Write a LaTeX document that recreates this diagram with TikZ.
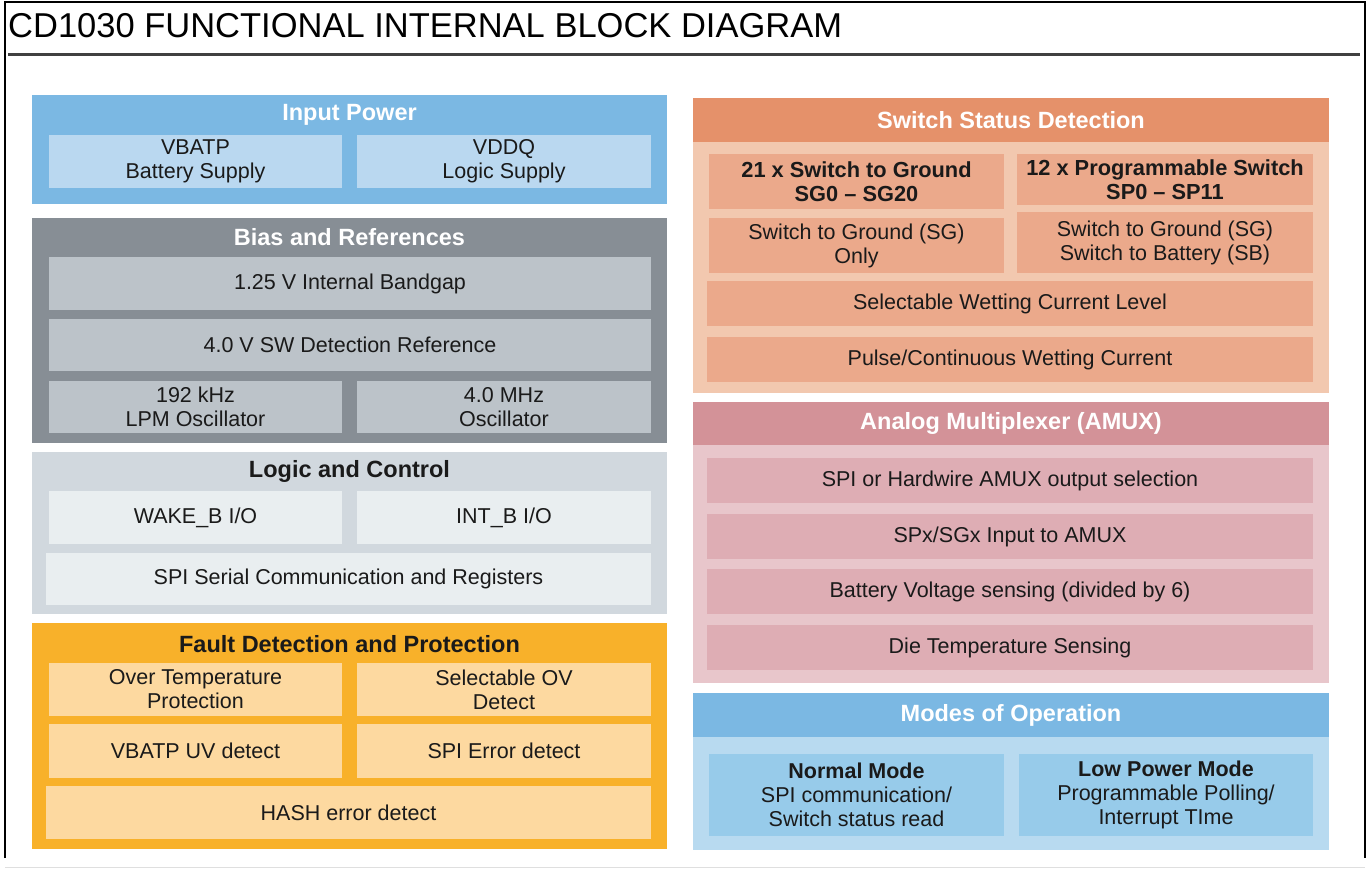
\documentclass[tikz,border=0pt]{standalone}
\usepackage{fontspec}
\setmainfont{Liberation Sans}
\definecolor{ipDark}{HTML}{7BB8E3}
\definecolor{ipLight}{HTML}{BAD8F0}
\definecolor{biasDark}{HTML}{878E95}
\definecolor{biasLight}{HTML}{BCC3C9}
\definecolor{logDark}{HTML}{D1D8DE}
\definecolor{logLight}{HTML}{E9EEF0}
\definecolor{faultDark}{HTML}{F8B12A}
\definecolor{faultLight}{HTML}{FDD9A0}
\definecolor{swDark}{HTML}{E5916A}
\definecolor{swBody}{HTML}{F2C8AF}
\definecolor{swBox}{HTML}{EBA98B}
\definecolor{amDark}{HTML}{D39298}
\definecolor{amBody}{HTML}{E8C6CB}
\definecolor{amBox}{HTML}{DEADB4}
\definecolor{moDark}{HTML}{7BB8E3}
\definecolor{moBody}{HTML}{B8DAF0}
\definecolor{moBox}{HTML}{97CBEA}
\definecolor{txt}{HTML}{1A1A1A}
\newcommand\blk[7]{%
  \pgfmathsetmacro\bw{#4-#2}\pgfmathsetmacro\bh{#5-#3}%
  \node[#6, minimum width=\bw pt, minimum height=\bh pt] (#1) at ({(#2+#4)/2},{(#3+#5)/2}) {#7};}
\tikzset{
  base/.style={rectangle, inner sep=0pt, outer sep=0pt, draw=none, align=center,
    text=txt, font=\fontsize{21.5}{24}\selectfont},
  hdrfont/.style={font=\bfseries\fontsize{23.5}{25}\selectfont},
  hdrW/.style={inner sep=0pt, text=white, hdrfont},
  hdrK/.style={inner sep=0pt, text=txt, hdrfont},
  frame/.style={line width=1.2pt, black},
}
\begin{document}
\begin{tikzpicture}[x=1pt,y=-1pt]
\useasboundingbox (0,0) rectangle (1368,869);
\fill[white] (0,0) rectangle (1368,869);
% frame
\coordinate (f1) at (5,858);
\coordinate (f2) at (5,2);
\coordinate (f3) at (1365,2);
\coordinate (f4) at (1365,858);
\draw[frame] (f1) -- (f2) -- (f3) -- (f4);
\coordinate (b1) at (5,867);
\coordinate (b2) at (1365,867);
\draw[gray!25, line width=1pt] (b1) -- (b2);
% title
\node[anchor=base west, inner sep=0pt, font=\fontsize{34.5}{38}\selectfont] (title) at (8,38) {CD1030 FUNCTIONAL INTERNAL BLOCK DIAGRAM};
\coordinate (t1) at (8,55);
\coordinate (t2) at (1360,55);
\draw[black!75, line width=3pt] (t1) -- (t2);

% ---------- Left column ----------
% Input Power
\blk{ip}{32}{95}{667}{204}{base, fill=ipDark}{}
\node[hdrW] (ipT) at (349.5,115) {Input Power};
\blk{vbatp}{49}{135}{342}{188}{base, fill=ipLight}{VBATP\\Battery Supply}
\blk{vddq}{357}{135}{651}{188}{base, fill=ipLight}{VDDQ\\Logic Supply}
% Bias
\blk{bias}{32}{218}{667}{443}{base, fill=biasDark}{}
\node[hdrW] (biasT) at (349.5,237.5) {Bias and References};
\blk{bg}{49}{257}{651}{310}{base, fill=biasLight}{1.25 V Internal Bandgap}
\blk{swref}{49}{319}{651}{371}{base, fill=biasLight}{4.0 V SW Detection Reference}
\blk{lpm}{49}{381}{342}{433}{base, fill=biasLight}{192 kHz\\LPM Oscillator}
\blk{osc}{357}{381}{651}{433}{base, fill=biasLight}{4.0 MHz\\Oscillator}
% Logic
\blk{logic}{32}{452}{667}{614}{base, fill=logDark}{}
\node[hdrK] (logicT) at (349.5,471.5) {Logic and Control};
\blk{wake}{49}{491}{342}{544}{base, fill=logLight}{WAKE\_B I/O}
\blk{intb}{357}{491}{651}{544}{base, fill=logLight}{INT\_B I/O}
\blk{spi}{46}{553}{651}{605}{base, fill=logLight}{SPI Serial Communication and Registers}
% Fault
\blk{fault}{32}{623}{667}{849}{base, fill=faultDark}{}
\node[hdrK] (faultT) at (349.5,644) {Fault Detection and Protection};
\blk{ot}{49}{663}{342}{716}{base, fill=faultLight}{Over Temperature\\Protection}
\blk{ov}{357}{663}{651}{716}{base, fill=faultLight}{Selectable OV\\Detect}
\blk{uv}{49}{724}{342}{778}{base, fill=faultLight}{VBATP UV detect}
\blk{spierr}{357}{724}{651}{778}{base, fill=faultLight}{SPI Error detect}
\blk{hash}{46}{786}{651}{839}{base, fill=faultLight}{HASH error detect}

% ---------- Right column ----------
% Switch Status Detection
\blk{sw}{693}{98}{1329}{393}{base, fill=swBody}{}
\blk{swH}{693}{98}{1329}{142}{base, fill=swDark, text=white, hdrfont}{Switch Status Detection}
\blk{sg}{709}{154}{1004}{209}{base, fill=swBox, font=\bfseries\fontsize{21.8}{24}\selectfont}{21 x Switch to Ground\\SG0 – SG20}
\blk{sp}{1017}{154}{1313}{205}{base, fill=swBox, font=\bfseries\fontsize{21.8}{24}\selectfont}{12 x Programmable Switch\\SP0 – SP11}
\blk{sgonly}{709}{218}{1004}{273}{base, fill=swBox}{Switch to Ground (SG)\\Only}
\blk{sgsb}{1017}{212}{1313}{273}{base, fill=swBox}{Switch to Ground (SG)\\Switch to Battery (SB)}
\blk{wet}{707}{281}{1313}{326}{base, fill=swBox}{Selectable Wetting Current Level}
\blk{pulse}{707}{337}{1313}{382}{base, fill=swBox}{Pulse/Continuous Wetting Current}
% AMUX
\blk{am}{693}{402}{1329}{683}{base, fill=amBody}{}
\blk{amH}{693}{402}{1329}{445}{base, fill=amDark, text=white, hdrfont}{Analog Multiplexer (AMUX)}
\blk{amsel}{707}{458}{1313}{503}{base, fill=amBox}{SPI or Hardwire AMUX output selection}
\blk{amin}{707}{514}{1313}{559}{base, fill=amBox}{SPx/SGx Input to AMUX}
\blk{ambat}{707}{569}{1313}{614}{base, fill=amBox}{Battery Voltage sensing (divided by 6)}
\blk{amtemp}{707}{625}{1313}{670}{base, fill=amBox}{Die Temperature Sensing}
% Modes
\blk{mo}{693}{693}{1329}{850}{base, fill=moBody}{}
\blk{moH}{693}{693}{1329}{737}{base, fill=moDark, text=white, hdrfont}{Modes of Operation}
\blk{normal}{709}{754}{1004}{836}{base, fill=moBox}{\textbf{Normal Mode}\\SPI communication/\\Switch status read}
\blk{lowp}{1019}{754}{1313}{836}{base, fill=moBox}{\textbf{Low Power Mode}\\Programmable Polling/\\Interrupt TIme}
\end{tikzpicture}
\end{document}
